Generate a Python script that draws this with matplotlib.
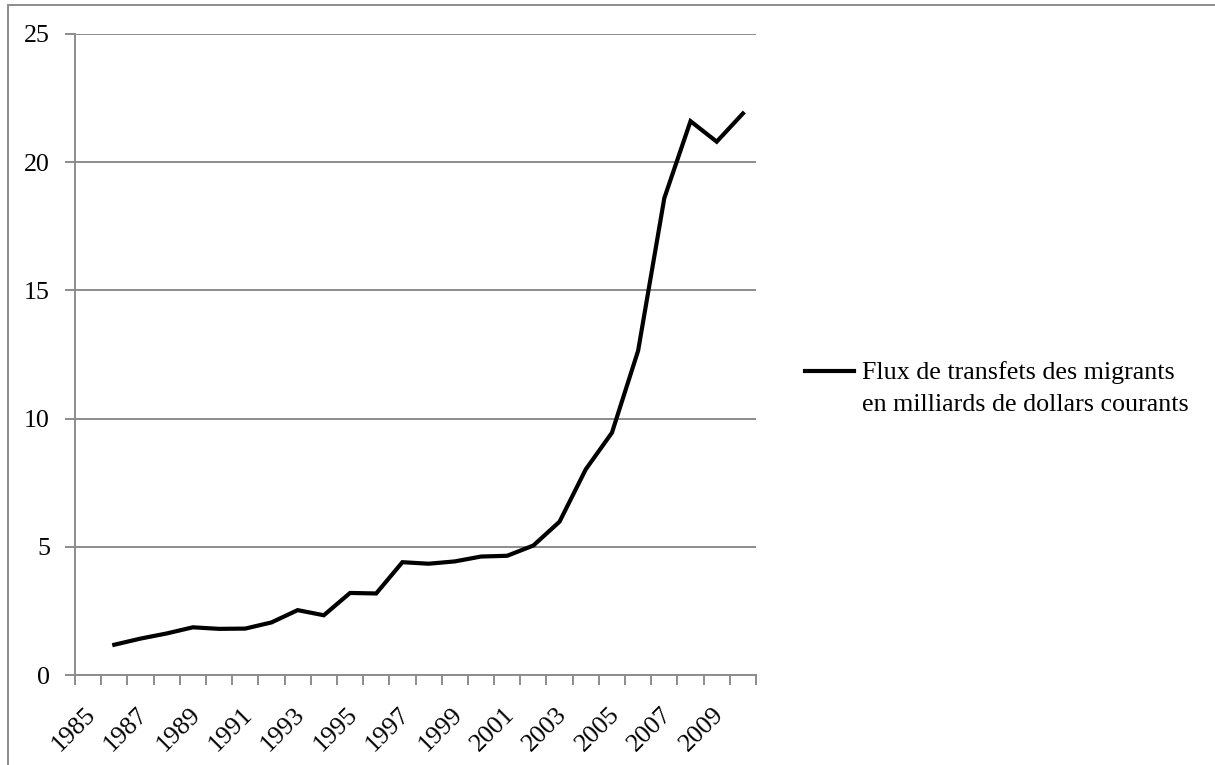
import matplotlib.pyplot as plt
import matplotlib.transforms as mtransforms
from matplotlib.patches import Rectangle
from matplotlib.lines import Line2D
from matplotlib.ticker import MultipleLocator, FixedLocator

years = list(range(1986, 2011))
flux = [1.18, 1.42, 1.62, 1.86, 1.80, 1.81, 2.05, 2.53, 2.33, 3.20, 3.18, 4.40,
        4.34, 4.43, 4.62, 4.65, 5.05, 5.98, 8.02, 9.45, 12.65, 18.6, 21.6, 20.8, 21.9]
label_years = list(range(1985, 2010, 2))
legend_lines = ["Flux de transfets des migrants", "en milliards de dollars courants"]

plt.rcParams['font.family'] = ['Liberation Serif', 'DejaVu Serif']
fs = 18.7

W, H = 1215, 765
fig = plt.figure(figsize=(W / 100, H / 100), dpi=100)
ax = fig.add_axes([75 / W, 1 - 675 / H, (756 - 75) / W, (675 - 34) / H])

# cadre gris (seuls les bords gauche et haut sont visibles)
fig.patches.append(Rectangle((8 / W, -0.05), 1.1, 1.05 - 5 / H,
                             transform=fig.transFigure, fill=False,
                             edgecolor='#8c8c8c', linewidth=1.4))

ax.plot(years, flux, color='black', linewidth=3, solid_joinstyle='miter')

ax.set_xlim(1984.5, 2010.5)
ax.set_ylim(0, 25)
ax.yaxis.set_major_locator(MultipleLocator(5))
ax.grid(axis='y', color='#8c8c8c', linewidth=1.4)
ax.set_axisbelow(True)

ax.xaxis.set_major_locator(FixedLocator(label_years))
ax.xaxis.set_minor_locator(FixedLocator([y + 0.5 for y in range(1984, 2011)]))
ax.set_xticklabels([str(y) for y in label_years], rotation=45, ha='right', va='center',
                   rotation_mode='anchor', fontsize=fs)
ax.tick_params(axis='x', which='major', length=0, pad=26)
ax.tick_params(axis='x', which='minor', length=7, color='#8c8c8c', width=1.4)
ax.tick_params(axis='y', length=7, color='#8c8c8c', width=1.4, labelsize=fs, pad=11)

# petit décalage vers la droite des années, comme dans Excel
shift = mtransforms.ScaledTranslation(4 / 100, 0, fig.dpi_scale_trans)
for lab in ax.get_xticklabels():
    lab.set_transform(lab.get_transform() + shift)

for s in ['top', 'right']:
    ax.spines[s].set_visible(False)
for s in ['left', 'bottom']:
    ax.spines[s].set_color('#8c8c8c')
    ax.spines[s].set_linewidth(1.4)

# légende à la manière d'Excel : le trait aligné sur la première ligne
fig.add_artist(Line2D([805 / W, 854 / W], [1 - 371 / H, 1 - 371 / H],
                      transform=fig.transFigure, color='black', linewidth=3))
fig.text(862 / W, 1 - 379 / H, legend_lines[0], fontsize=fs, va='baseline')
fig.text(862 / W, 1 - 411 / H, legend_lines[1], fontsize=fs, va='baseline')

fig.savefig('out.png', dpi=100)
